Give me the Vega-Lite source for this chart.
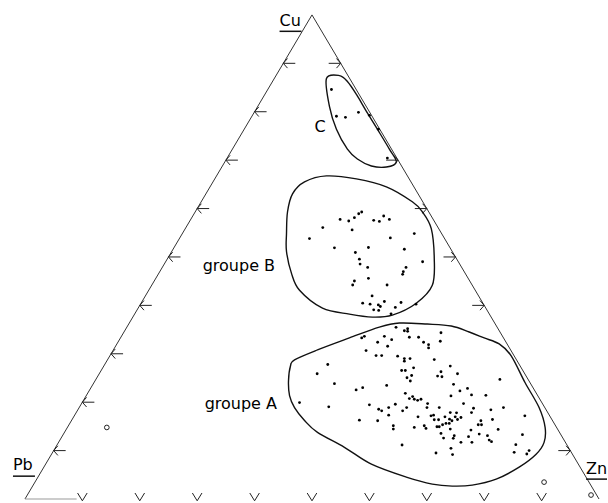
{
  "$schema": "https://vega.github.io/schema/vega-lite/v6.json",
  "width": 608,
  "height": 503,
  "autosize": {"type": "fit", "contains": "padding"},
  "padding": 0,
  "background": "white",
  "config": {"view": {"stroke": null}},
  "datasets": {
    "tri": [
      {"s": "sides", "o": 0, "x": 0, "y": 0},
      {"s": "sides", "o": 1, "x": 50, "y": 100},
      {"s": "sides", "o": 2, "x": 100, "y": 0},
      {"s": "base", "o": 0, "x": 0, "y": 0},
      {"s": "base", "o": 1, "x": 9, "y": 0}
    ],
    "ticksL": [
      {"x": 5, "y": 10}, {"x": 10, "y": 20}, {"x": 15, "y": 30}, {"x": 20, "y": 40}, {"x": 25, "y": 50},
      {"x": 30, "y": 60}, {"x": 35, "y": 70}, {"x": 40, "y": 80}, {"x": 45, "y": 90}
    ],
    "ticksR": [
      {"x": 95, "y": 10}, {"x": 80, "y": 40}, {"x": 75, "y": 50}, {"x": 70, "y": 60}, {"x": 65, "y": 70}, {"x": 55, "y": 90}
    ],
    "ticksB": [
      {"x": 10, "y": 0}, {"x": 20, "y": 0}, {"x": 30, "y": 0}, {"x": 40, "y": 0}, {"x": 50, "y": 0},
      {"x": 60, "y": 0}, {"x": 70, "y": 0}, {"x": 80, "y": 0}, {"x": 90, "y": 0}
    ],
    "contours": [
      {"g": "C", "o": 0, "x": 52.52, "y": 86.86}, {"g": "C", "o": 1, "x": 54.78, "y": 87.47}, {"g": "C", "o": 2, "x": 56.17, "y": 86.24},
      {"g": "C", "o": 3, "x": 57.74, "y": 83.57}, {"g": "C", "o": 4, "x": 59.48, "y": 80.08}, {"g": "C", "o": 5, "x": 61.39, "y": 76.39},
      {"g": "C", "o": 6, "x": 63.48, "y": 72.28}, {"g": "C", "o": 7, "x": 64.69, "y": 69.61}, {"g": "C", "o": 8, "x": 62.96, "y": 68.58},
      {"g": "C", "o": 9, "x": 60.35, "y": 68.79}, {"g": "C", "o": 10, "x": 57.91, "y": 70.23}, {"g": "C", "o": 11, "x": 56.17, "y": 72.28},
      {"g": "C", "o": 12, "x": 54.26, "y": 76.39}, {"g": "C", "o": 13, "x": 53.04, "y": 81.11},
      {"g": "B", "o": 0, "x": 52.52, "y": 66.74}, {"g": "B", "o": 1, "x": 48.70, "y": 65.50}, {"g": "B", "o": 2, "x": 46.61, "y": 63.04},
      {"g": "B", "o": 3, "x": 45.74, "y": 59.34}, {"g": "B", "o": 4, "x": 45.56, "y": 54.83}, {"g": "B", "o": 5, "x": 45.56, "y": 51.13},
      {"g": "B", "o": 6, "x": 46.43, "y": 46.61}, {"g": "B", "o": 7, "x": 47.83, "y": 43.12}, {"g": "B", "o": 8, "x": 51.83, "y": 39.43},
      {"g": "B", "o": 9, "x": 56.52, "y": 38.19}, {"g": "B", "o": 10, "x": 60.52, "y": 37.58}, {"g": "B", "o": 11, "x": 64.0, "y": 37.99},
      {"g": "B", "o": 12, "x": 68.17, "y": 40.45}, {"g": "B", "o": 13, "x": 70.96, "y": 44.15}, {"g": "B", "o": 14, "x": 71.30, "y": 49.69},
      {"g": "B", "o": 15, "x": 70.78, "y": 55.85}, {"g": "B", "o": 16, "x": 69.22, "y": 59.34}, {"g": "B", "o": 17, "x": 67.48, "y": 61.40},
      {"g": "B", "o": 18, "x": 62.96, "y": 64.48}, {"g": "B", "o": 19, "x": 57.74, "y": 66.12},
      {"g": "A", "o": 0, "x": 46.96, "y": 28.75}, {"g": "A", "o": 1, "x": 50.96, "y": 30.80}, {"g": "A", "o": 2, "x": 56.52, "y": 33.27},
      {"g": "A", "o": 3, "x": 61.74, "y": 35.52}, {"g": "A", "o": 4, "x": 65.22, "y": 36.35}, {"g": "A", "o": 5, "x": 70.09, "y": 36.14},
      {"g": "A", "o": 6, "x": 74.26, "y": 35.73}, {"g": "A", "o": 7, "x": 77.39, "y": 34.50}, {"g": "A", "o": 8, "x": 80.0, "y": 33.27},
      {"g": "A", "o": 9, "x": 82.61, "y": 32.03}, {"g": "A", "o": 10, "x": 84.70, "y": 29.57}, {"g": "A", "o": 11, "x": 87.13, "y": 24.02},
      {"g": "A", "o": 12, "x": 89.56, "y": 18.89}, {"g": "A", "o": 13, "x": 90.61, "y": 14.78}, {"g": "A", "o": 14, "x": 90.43, "y": 11.70},
      {"g": "A", "o": 15, "x": 89.04, "y": 9.24}, {"g": "A", "o": 16, "x": 86.09, "y": 6.57}, {"g": "A", "o": 17, "x": 82.09, "y": 4.11},
      {"g": "A", "o": 18, "x": 77.91, "y": 2.87}, {"g": "A", "o": 19, "x": 74.43, "y": 2.67}, {"g": "A", "o": 20, "x": 70.96, "y": 3.08},
      {"g": "A", "o": 21, "x": 66.43, "y": 4.52}, {"g": "A", "o": 22, "x": 60.35, "y": 7.19}, {"g": "A", "o": 23, "x": 55.65, "y": 10.68},
      {"g": "A", "o": 24, "x": 50.96, "y": 13.76}, {"g": "A", "o": 25, "x": 48.70, "y": 16.22}, {"g": "A", "o": 26, "x": 46.96, "y": 18.89},
      {"g": "A", "o": 27, "x": 46.09, "y": 21.36}, {"g": "A", "o": 28, "x": 45.91, "y": 24.44}, {"g": "A", "o": 29, "x": 46.26, "y": 27.52}
    ],
    "dots": [
      {"x": 53.39, "y": 84.60}, {"x": 54.26, "y": 79.06}, {"x": 55.83, "y": 78.85}, {"x": 58.09, "y": 79.88}, {"x": 60.0, "y": 79.26}, {"x": 61.56, "y": 76.39}, {"x": 63.13, "y": 70.43},
      {"x": 54.90, "y": 57.76}, {"x": 56.40, "y": 57.43}, {"x": 57.39, "y": 58.11}, {"x": 58.14, "y": 58.93}, {"x": 58.66, "y": 59.28}, {"x": 60.75, "y": 57.56},
      {"x": 61.74, "y": 57.35}, {"x": 62.49, "y": 58.46}, {"x": 63.48, "y": 57.76}, {"x": 51.88, "y": 56.06}, {"x": 56.99, "y": 55.59}, {"x": 49.56, "y": 53.80},
      {"x": 63.65, "y": 53.94}, {"x": 67.82, "y": 54.83}, {"x": 53.91, "y": 51.89}, {"x": 59.83, "y": 51.95}, {"x": 57.56, "y": 50.92}, {"x": 66.09, "y": 51.60},
      {"x": 58.26, "y": 49.55}, {"x": 58.38, "y": 48.52}, {"x": 69.27, "y": 49.01}, {"x": 59.70, "y": 47.84}, {"x": 66.38, "y": 47.84}, {"x": 65.91, "y": 46.96},
      {"x": 65.79, "y": 46.41}, {"x": 59.83, "y": 45.59}, {"x": 57.39, "y": 45.03}, {"x": 57.09, "y": 44.21}, {"x": 63.08, "y": 44.21}, {"x": 60.47, "y": 41.95},
      {"x": 58.83, "y": 40.45}, {"x": 60.12, "y": 40.25}, {"x": 61.56, "y": 40.10}, {"x": 61.91, "y": 39.77}, {"x": 62.61, "y": 40.80}, {"x": 60.75, "y": 39.08},
      {"x": 64.52, "y": 39.57}, {"x": 65.51, "y": 40.60}, {"x": 68.12, "y": 40.25}, {"x": 63.77, "y": 38.25}, {"x": 61.62, "y": 38.95},
      {"x": 58.66, "y": 33.27}, {"x": 59.13, "y": 33.61}, {"x": 61.44, "y": 32.38}, {"x": 59.42, "y": 30.66}, {"x": 61.16, "y": 29.63}, {"x": 52.75, "y": 27.78},
      {"x": 50.90, "y": 25.87}, {"x": 53.91, "y": 23.82}, {"x": 57.69, "y": 22.53}, {"x": 58.83, "y": 23.0}, {"x": 47.83, "y": 19.92}, {"x": 52.92, "y": 19.04},
      {"x": 60.0, "y": 19.45}, {"x": 61.62, "y": 18.54}, {"x": 58.26, "y": 16.28}, {"x": 61.44, "y": 16.16},
      {"x": 64.64, "y": 35.46}, {"x": 66.09, "y": 34.76}, {"x": 66.66, "y": 35.17}, {"x": 66.66, "y": 34.64}, {"x": 72.47, "y": 34.35}, {"x": 62.61, "y": 33.61},
      {"x": 63.88, "y": 32.92}, {"x": 66.96, "y": 33.41}, {"x": 68.57, "y": 33.41}, {"x": 69.44, "y": 32.38}, {"x": 70.31, "y": 31.89}, {"x": 70.31, "y": 31.21},
      {"x": 72.35, "y": 32.59}, {"x": 63.18, "y": 31.56}, {"x": 62.14, "y": 29.63}, {"x": 64.92, "y": 29.51}, {"x": 66.09, "y": 29.01}, {"x": 66.09, "y": 28.48},
      {"x": 67.08, "y": 29.01}, {"x": 71.30, "y": 28.81}, {"x": 67.70, "y": 27.10}, {"x": 74.09, "y": 27.45}, {"x": 65.62, "y": 26.55}, {"x": 66.26, "y": 26.55},
      {"x": 72.47, "y": 26.28}, {"x": 75.35, "y": 25.87}, {"x": 67.36, "y": 25.52}, {"x": 71.88, "y": 25.40}, {"x": 72.64, "y": 25.26}, {"x": 66.55, "y": 25.05},
      {"x": 67.13, "y": 24.37}, {"x": 74.66, "y": 23.68}, {"x": 63.01, "y": 23.47}, {"x": 77.09, "y": 22.85}, {"x": 75.77, "y": 22.32}, {"x": 66.26, "y": 21.83},
      {"x": 74.21, "y": 21.29}, {"x": 67.53, "y": 21.15}, {"x": 66.96, "y": 20.74}, {"x": 67.82, "y": 20.60}, {"x": 68.40, "y": 20.39}, {"x": 68.99, "y": 20.60},
      {"x": 70.14, "y": 19.71}, {"x": 76.40, "y": 19.71}, {"x": 64.52, "y": 19.57}, {"x": 66.49, "y": 18.89}, {"x": 63.36, "y": 18.89}, {"x": 70.03, "y": 18.89},
      {"x": 72.17, "y": 18.89}, {"x": 62.14, "y": 18.21}, {"x": 65.79, "y": 18.21}, {"x": 74.09, "y": 17.86}, {"x": 75.18, "y": 17.80}, {"x": 63.36, "y": 17.31},
      {"x": 70.73, "y": 17.19}, {"x": 71.18, "y": 17.31}, {"x": 73.16, "y": 16.98}, {"x": 74.95, "y": 16.98}, {"x": 75.95, "y": 16.84}, {"x": 68.47, "y": 16.98},
      {"x": 71.30, "y": 16.37}, {"x": 72.05, "y": 16.37}, {"x": 73.96, "y": 16.49}, {"x": 74.38, "y": 16.16}, {"x": 75.35, "y": 16.43}, {"x": 73.91, "y": 15.61},
      {"x": 72.75, "y": 15.34}, {"x": 71.77, "y": 14.93}, {"x": 72.17, "y": 14.93}, {"x": 69.56, "y": 15.13}, {"x": 69.86, "y": 14.58}, {"x": 64.17, "y": 15.13},
      {"x": 64.17, "y": 14.44}, {"x": 67.82, "y": 14.78}, {"x": 73.34, "y": 15.61}, {"x": 74.09, "y": 14.44}, {"x": 72.47, "y": 13.55}, {"x": 74.78, "y": 13.08},
      {"x": 72.92, "y": 12.59}, {"x": 74.61, "y": 12.53}, {"x": 77.27, "y": 12.87}, {"x": 75.95, "y": 11.70}, {"x": 65.69, "y": 11.15}, {"x": 74.21, "y": 10.47},
      {"x": 71.60, "y": 9.51}, {"x": 74.49, "y": 9.18},
      {"x": 82.73, "y": 24.70}, {"x": 80.29, "y": 21.42}, {"x": 77.79, "y": 21.50}, {"x": 78.14, "y": 18.75}, {"x": 77.79, "y": 17.86}, {"x": 81.16, "y": 18.42},
      {"x": 83.35, "y": 18.89}, {"x": 87.08, "y": 17.19}, {"x": 81.44, "y": 16.43}, {"x": 79.42, "y": 16.16}, {"x": 78.96, "y": 15.34}, {"x": 79.53, "y": 15.34},
      {"x": 77.69, "y": 14.23}, {"x": 82.43, "y": 14.37}, {"x": 79.13, "y": 13.41}, {"x": 80.57, "y": 13.08}, {"x": 77.86, "y": 11.70}, {"x": 80.87, "y": 12.18},
      {"x": 81.27, "y": 11.85}, {"x": 86.66, "y": 13.29}, {"x": 85.51, "y": 11.23}, {"x": 85.22, "y": 9.65}, {"x": 87.82, "y": 10.0}, {"x": 87.42, "y": 9.30}
    ],
    "circles": [
      {"x": 14.26, "y": 14.78}, {"x": 90.43, "y": 3.49}, {"x": 98.61, "y": 0.82}
    ],
    "labels": [
      {"t": "Cu", "x": 44.35, "y": 97.74},
      {"t": "Pb", "x": -2.09, "y": 5.95},
      {"t": "Zn", "x": 97.74, "y": 5.13},
      {"t": "groupe B", "x": 30.96, "y": 47.02},
      {"t": "groupe A", "x": 31.30, "y": 18.54},
      {"t": "C", "x": 50.43, "y": 75.91}
    ],
    "underlines": [
      {"k": "Cu", "x": 44.35, "x2": 48.17, "y": 96.61},
      {"k": "Pb", "x": -2.09, "x2": 1.74, "y": 4.72},
      {"k": "Zn", "x": 97.74, "x2": 101.39, "y": 4.11}
    ]
  },
  "encoding": {
    "x": {"field": "x", "type": "quantitative", "scale": {"domain": [-4.348, 101.391], "nice": false, "zero": false}, "axis": null},
    "y": {"field": "y", "type": "quantitative", "scale": {"domain": [-0.205, 103.08], "nice": false, "zero": false}, "axis": null}
  },
  "layer": [
    {
      "data": {"name": "tri"},
      "mark": {"type": "line", "strokeWidth": 1, "interpolate": "linear"},
      "encoding": {
        "detail": {"field": "s"},
        "order": {"field": "o", "type": "quantitative"},
        "color": {"field": "s", "type": "nominal", "scale": {"domain": ["sides", "base"], "range": ["#333333", "#999999"]}, "legend": null}
      }
    },
    {
      "data": {"name": "ticksL"},
      "mark": {"type": "point", "shape": "M0,0L2,0M0,0L0.7,-0.8M0,0L0.7,0.8", "size": 144, "filled": false, "stroke": "#222222", "strokeWidth": 1, "opacity": 1}
    },
    {
      "data": {"name": "ticksR"},
      "mark": {"type": "point", "shape": "M0,0L-2,0M0,0L-0.7,-0.8M0,0L-0.7,0.8", "size": 144, "filled": false, "stroke": "#222222", "strokeWidth": 1, "opacity": 1}
    },
    {
      "data": {"name": "ticksB"},
      "mark": {"type": "point", "shape": "M-0.8,-1L0,0.3L0.8,-1", "size": 144, "filled": false, "stroke": "#222222", "strokeWidth": 1, "opacity": 1}
    },
    {
      "data": {"name": "contours"},
      "mark": {"type": "line", "interpolate": "cardinal-closed", "stroke": "#111111", "strokeWidth": 1.4},
      "encoding": {
        "detail": {"field": "g"},
        "order": {"field": "o", "type": "quantitative"}
      }
    },
    {
      "data": {"name": "dots"},
      "mark": {"type": "circle", "size": 8, "color": "#000000", "opacity": 1}
    },
    {
      "data": {"name": "circles"},
      "mark": {"type": "point", "shape": "circle", "size": 22, "filled": false, "stroke": "#222222", "strokeWidth": 1, "opacity": 1}
    },
    {
      "data": {"name": "labels"},
      "mark": {"type": "text", "align": "left", "baseline": "alphabetic", "font": "DejaVu Sans", "fontSize": 16, "color": "#000000"},
      "encoding": {"text": {"field": "t"}}
    },
    {
      "data": {"name": "underlines"},
      "mark": {"type": "rule", "strokeWidth": 1.5, "color": "#111111"},
      "encoding": {"x2": {"field": "x2"}}
    }
  ]
}
